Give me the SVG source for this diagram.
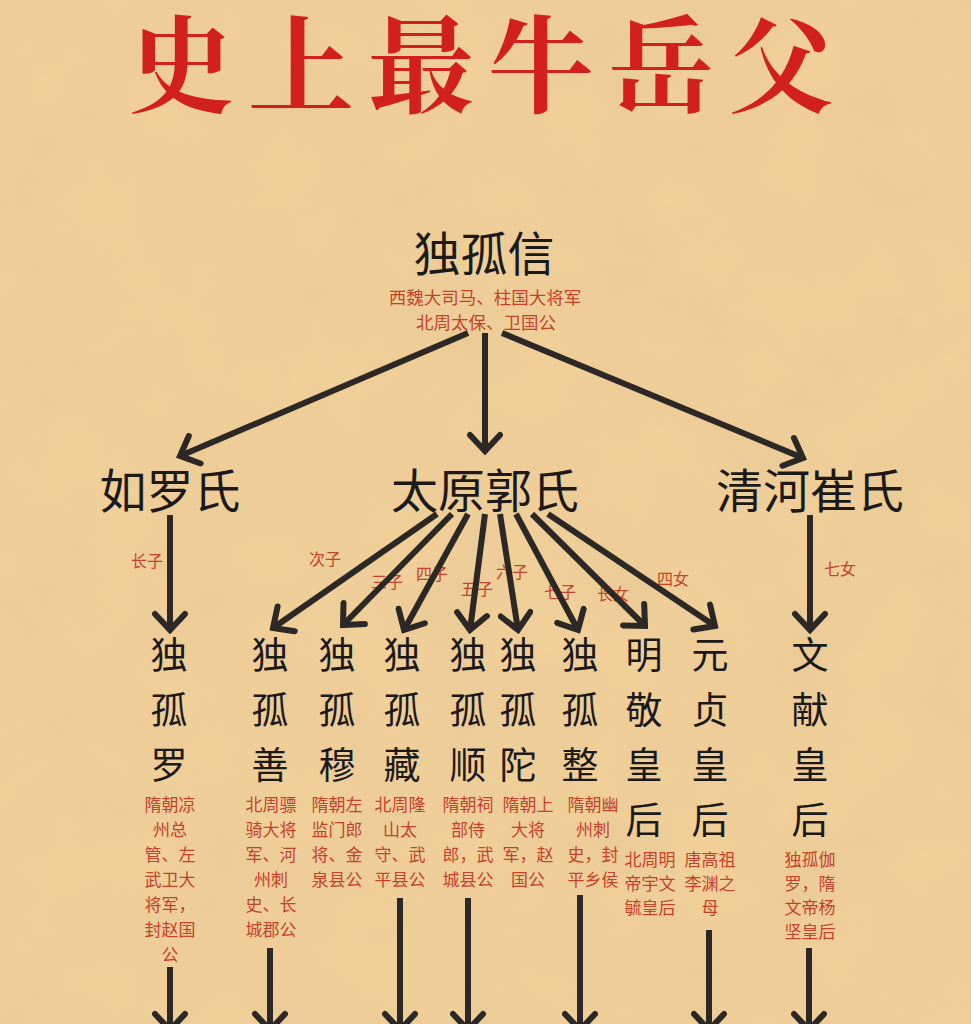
<svg xmlns="http://www.w3.org/2000/svg" width="971" height="1024" viewBox="0 0 971 1024">
<defs>
<style>
.bg{fill:#f0cf99}
.title{font-family:"Noto Serif CJK SC","Noto Sans CJK SC",serif;font-size:106px;font-weight:700;fill:#d2201d;letter-spacing:14px}
.big{font-family:"Noto Sans CJK SC",sans-serif;font-size:47px;fill:#1c1a18;text-anchor:middle}
.ch{font-family:"Noto Sans CJK SC",sans-serif;font-size:37px;fill:#1c1a18;text-anchor:middle}
.red{font-family:"Noto Sans CJK SC",sans-serif;font-size:17px;fill:#c4432c;text-anchor:middle}
.lbl{font-family:"Noto Sans CJK SC",sans-serif;font-size:16px;fill:#c4432c;text-anchor:middle}
.ln{stroke:#2b2825;stroke-width:6;fill:none;marker-end:url(#ah)}
</style>
<marker id="ah" markerUnits="userSpaceOnUse" viewBox="0 0 30 36" markerWidth="30" markerHeight="36" refX="26" refY="18" orient="auto">
<path d="M10,3 L26,18 L10,33" fill="none" stroke="#2b2825" stroke-width="6" stroke-linejoin="miter" stroke-linecap="round"/>
</marker>
<filter id="paper" x="0" y="0" width="100%" height="100%">
<feTurbulence type="fractalNoise" baseFrequency="0.012" numOctaves="4" seed="7"/>
<feColorMatrix type="matrix" values="0 0 0 0 0.72  0 0 0 0 0.52  0 0 0 0 0.28  1.1 0 0 0 -0.35"/>
</filter>
</defs>
<rect class="bg" x="0" y="0" width="971" height="1024"/>
<rect x="0" y="0" width="971" height="1024" filter="url(#paper)" opacity="0.5"/>

<g id="title"><text class="title" x="128" y="104">史上最牛岳父</text></g>

<g id="labels">
<text class="lbl" x="147" y="567">长子</text>
<text class="lbl" x="325" y="565">次子</text>
<text class="lbl" x="387" y="588">三子</text>
<text class="lbl" x="432" y="580">四子</text>
<text class="lbl" x="477" y="595">五子</text>
<text class="lbl" x="512" y="578">六子</text>
<text class="lbl" x="560" y="598">七子</text>
<text class="lbl" x="613" y="600">长女</text>
<text class="lbl" x="673" y="585">四女</text>
<text class="lbl" x="840" y="575">七女</text>
</g>

<g id="connectors">
<line class="ln" x1="468" y1="333" x2="180" y2="456"/>
<line class="ln" x1="485" y1="333" x2="485" y2="451"/>
<line class="ln" x1="502" y1="333" x2="803" y2="458"/>
<line class="ln" x1="170" y1="515" x2="170" y2="630"/>
<line class="ln" x1="437" y1="514" x2="273" y2="628"/>
<line class="ln" x1="452" y1="514" x2="343" y2="625"/>
<line class="ln" x1="468" y1="514" x2="404" y2="630"/>
<line class="ln" x1="485" y1="514" x2="470" y2="630"/>
<line class="ln" x1="500" y1="514" x2="518" y2="630"/>
<line class="ln" x1="516" y1="514" x2="578" y2="630"/>
<line class="ln" x1="532" y1="514" x2="645" y2="626"/>
<line class="ln" x1="548" y1="514" x2="715" y2="626"/>
<line class="ln" x1="810" y1="515" x2="810" y2="630"/>
<line class="ln" x1="170" y1="967" x2="170" y2="1030"/>
<line class="ln" x1="270" y1="948" x2="270" y2="1030"/>
<line class="ln" x1="400" y1="898" x2="400" y2="1030"/>
<line class="ln" x1="468" y1="898" x2="468" y2="1030"/>
<line class="ln" x1="580" y1="895" x2="580" y2="1030"/>
<line class="ln" x1="709" y1="930" x2="709" y2="1030"/>
<line class="ln" x1="809" y1="948" x2="809" y2="1030"/>
</g>

<g id="dugu-xin">
<text class="big" x="484" y="271">独孤信</text>
<text class="red" x="485" y="304" style="font-size:17.5px">西魏大司马、柱国大将军</text>
<text class="red" x="486" y="329" style="font-size:17.5px">北周太保、卫国公</text>
</g>
<g id="ruluo"><text class="big" x="170" y="508">如罗氏</text></g>
<g id="taiyuan-guo"><text class="big" x="485" y="508">太原郭氏</text></g>
<g id="qinghe-cui"><text class="big" x="810" y="508">清河崔氏</text></g>

<g id="dugu-luo">
<text class="ch"><tspan x="169" y="669">独</tspan><tspan x="169" y="724">孤</tspan><tspan x="169" y="779">罗</tspan></text>
<text class="red"><tspan x="170" y="811">隋朝凉</tspan><tspan x="170" y="836">州总</tspan><tspan x="170" y="861">管、左</tspan><tspan x="170" y="886">武卫大</tspan><tspan x="170" y="911">将军，</tspan><tspan x="170" y="936">封赵国</tspan><tspan x="170" y="961">公</tspan></text>
</g>
<g id="dugu-shan">
<text class="ch"><tspan x="270" y="669">独</tspan><tspan x="270" y="724">孤</tspan><tspan x="270" y="779">善</tspan></text>
<text class="red"><tspan x="271" y="811">北周骠</tspan><tspan x="271" y="836">骑大将</tspan><tspan x="271" y="861">军、河</tspan><tspan x="271" y="886">州刺</tspan><tspan x="271" y="911">史、长</tspan><tspan x="271" y="936">城郡公</tspan></text>
</g>
<g id="dugu-mu">
<text class="ch"><tspan x="337" y="669">独</tspan><tspan x="337" y="724">孤</tspan><tspan x="337" y="779">穆</tspan></text>
<text class="red"><tspan x="337" y="811">隋朝左</tspan><tspan x="337" y="836">监门郎</tspan><tspan x="337" y="861">将、金</tspan><tspan x="337" y="886">泉县公</tspan></text>
</g>
<g id="dugu-zang">
<text class="ch"><tspan x="402" y="669">独</tspan><tspan x="402" y="724">孤</tspan><tspan x="402" y="779">藏</tspan></text>
<text class="red"><tspan x="400" y="811">北周隆</tspan><tspan x="400" y="836">山太</tspan><tspan x="400" y="861">守、武</tspan><tspan x="400" y="886">平县公</tspan></text>
</g>
<g id="dugu-shun">
<text class="ch"><tspan x="468" y="669">独</tspan><tspan x="468" y="724">孤</tspan><tspan x="468" y="779">顺</tspan></text>
<text class="red"><tspan x="468" y="811">隋朝祠</tspan><tspan x="468" y="836">部侍</tspan><tspan x="468" y="861">郎，武</tspan><tspan x="468" y="886">城县公</tspan></text>
</g>
<g id="dugu-tuo">
<text class="ch"><tspan x="518" y="669">独</tspan><tspan x="518" y="724">孤</tspan><tspan x="518" y="779">陀</tspan></text>
<text class="red"><tspan x="528" y="811">隋朝上</tspan><tspan x="528" y="836">大将</tspan><tspan x="528" y="861">军，赵</tspan><tspan x="528" y="886">国公</tspan></text>
</g>
<g id="dugu-zheng">
<text class="ch"><tspan x="580" y="669">独</tspan><tspan x="580" y="724">孤</tspan><tspan x="580" y="779">整</tspan></text>
<text class="red"><tspan x="593" y="811">隋朝幽</tspan><tspan x="593" y="836">州刺</tspan><tspan x="593" y="861">史，封</tspan><tspan x="593" y="886">平乡侯</tspan></text>
</g>
<g id="mingjing">
<text class="ch"><tspan x="644" y="669">明</tspan><tspan x="644" y="724">敬</tspan><tspan x="644" y="779">皇</tspan><tspan x="644" y="834">后</tspan></text>
<text class="red"><tspan x="650" y="866">北周明</tspan><tspan x="650" y="890">帝宇文</tspan><tspan x="650" y="914">毓皇后</tspan></text>
</g>
<g id="yuanzhen">
<text class="ch"><tspan x="710" y="669">元</tspan><tspan x="710" y="724">贞</tspan><tspan x="710" y="779">皇</tspan><tspan x="710" y="834">后</tspan></text>
<text class="red"><tspan x="710" y="866">唐高祖</tspan><tspan x="710" y="890">李渊之</tspan><tspan x="710" y="914">母</tspan></text>
</g>
<g id="wenxian">
<text class="ch"><tspan x="810" y="669">文</tspan><tspan x="810" y="724">献</tspan><tspan x="810" y="779">皇</tspan><tspan x="810" y="834">后</tspan></text>
<text class="red"><tspan x="810" y="866">独孤伽</tspan><tspan x="810" y="890">罗，隋</tspan><tspan x="810" y="914">文帝杨</tspan><tspan x="810" y="938">坚皇后</tspan></text>
</g>
</svg>
